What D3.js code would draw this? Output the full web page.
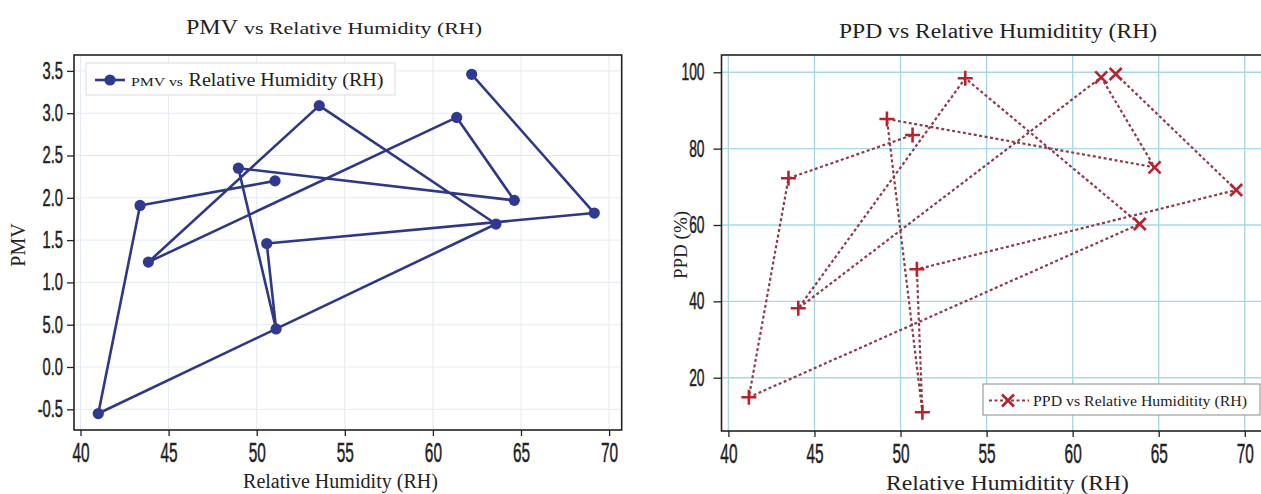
<!DOCTYPE html>
<html>
<head>
<meta charset="utf-8">
<script src="https://cdn.jsdelivr.net/npm/d3@7"></script>
<style>
  body { margin: 0; background: #fff; }
  .serif { font-family: 'Liberation Serif', 'Times New Roman', serif; fill: #222; }
  .tick text { font-family: 'Liberation Sans Narrow', 'Liberation Sans', sans-serif; fill: #222; stroke: #222; stroke-width: 0.5px; }
</style>
</head>
<body>
<div class="chart"></div>
<script>
// readings in the order the points are joined
const rhPmv = [62.2, 69.16, 50.57, 51.1, 48.96, 64.62, 61.35, 43.85, 53.55, 63.58, 41.01, 43.38, 51.04];
const pmv = [3.46, 1.82, 1.46, 0.45, 2.35, 1.97, 2.95, 1.24, 3.09, 1.69, -0.55, 1.91, 2.2];
const pmvTicks = [-0.5, 0, 0.5, 1, 1.5, 2, 2.5, 3, 3.5];
const pmvTickLabels = ['-0.5', '0.0', '5.0', '1.0', '1.5', '2.0', '2.5', '3.0', '3.5'];

const rhPpd = [62.5, 69.5, 50.95, 51.27, 49.21, 64.76, 61.66, 44.06, 53.76, 63.9, 41.19, 43.49, 50.7];
const ppd = [99.55, 69.17, 48.4, 10.94, 87.77, 75.11, 98.69, 38.18, 98.43, 60.26, 14.87, 72.23, 83.58];
const ppdTicks = [20, 40, 60, 80, 100];

const rhTicks = [40, 45, 50, 55, 60, 65, 70];

const width = 1261;
const height = 494;

const svg = d3
  .select('.chart')
  .append('svg')
  .attr('width', width)
  .attr('height', height);

// squeeze tick labels, the digits in the picture are tall and narrow
function squeeze(g, sx) {
  g.selectAll('.tick text').each(function () {
    const t = d3.select(this);
    const x = +t.attr('x') || 0;
    t.attr('transform', 'scale(' + sx + ',1)').attr('x', x / sx);
  });
}

// ---------- left: PMV ----------
const x1 = d3.scaleLinear().domain([39.631, 70.715]).range([74, 621.7]);
const y1 = d3.scaleLinear().domain([-0.7447, 3.688]).range([430, 55]);

const g1 = svg.append('g');

g1.append('g')
  .selectAll('line')
  .data(rhTicks)
  .enter()
  .append('line')
  .attr('x1', (d) => x1(d))
  .attr('x2', (d) => x1(d))
  .attr('y1', 55)
  .attr('y2', 430)
  .attr('stroke', '#e4eaf2')
  .attr('stroke-width', 1);

g1.append('g')
  .selectAll('line')
  .data(pmvTicks)
  .enter()
  .append('line')
  .attr('x1', 74)
  .attr('x2', 621.7)
  .attr('y1', (d) => y1(d))
  .attr('y2', (d) => y1(d))
  .attr('stroke', '#e4eaf2')
  .attr('stroke-width', 1);

g1.append('rect')
  .attr('x', 74)
  .attr('y', 55)
  .attr('width', 621.7 - 74)
  .attr('height', 430 - 55)
  .attr('fill', 'none')
  .attr('stroke', '#222')
  .attr('stroke-width', 1.6);

const ax1 = g1
  .append('g')
  .attr('transform', 'translate(0,430)')
  .call(d3.axisBottom(x1).tickValues(rhTicks).tickSize(6).tickPadding(6).tickFormat(d3.format('d')));
ax1.select('.domain').remove();
ax1.selectAll('.tick line').attr('stroke', '#222').attr('stroke-width', 1.3);
ax1.selectAll('.tick text').attr('font-size', 28);
squeeze(ax1, 0.55);

const ay1 = g1
  .append('g')
  .attr('transform', 'translate(74,0)')
  .call(
    d3.axisLeft(y1)
      .tickValues(pmvTicks)
      .tickSize(7)
      .tickPadding(4)
      .tickFormat((d, i) => pmvTickLabels[i])
  );
ay1.select('.domain').remove();
ay1.selectAll('.tick line').attr('stroke', '#222').attr('stroke-width', 1.3);
ay1.selectAll('.tick text').attr('font-size', 23);
squeeze(ay1, 0.64);

const pmvPts = rhPmv.map((d, i) => [d, pmv[i]]);

g1.append('path')
  .datum(pmvPts)
  .attr('fill', 'none')
  .attr('stroke', '#2e3886')
  .attr('stroke-width', 2.6)
  .attr('stroke-linejoin', 'round')
  .attr('d', d3.line().x((d) => x1(d[0])).y((d) => y1(d[1])));

g1.append('g')
  .selectAll('circle')
  .data(pmvPts)
  .enter()
  .append('circle')
  .attr('cx', (d) => x1(d[0]))
  .attr('cy', (d) => y1(d[1]))
  .attr('r', 5.6)
  .attr('fill', '#2f3a8f');

// legend
g1.append('rect')
  .attr('x', 86)
  .attr('y', 63)
  .attr('width', 309)
  .attr('height', 32)
  .attr('fill', '#fff')
  .attr('stroke', '#dcdcdc')
  .attr('stroke-width', 1);
g1.append('line')
  .attr('x1', 95)
  .attr('x2', 125)
  .attr('y1', 80)
  .attr('y2', 80)
  .attr('stroke', '#2e3886')
  .attr('stroke-width', 2.6);
g1.append('circle').attr('cx', 110).attr('cy', 80).attr('r', 5.6).attr('fill', '#2f3a8f');
g1.append('text')
  .attr('class', 'serif')
  .attr('x', 131)
  .attr('y', 85.5)
  .attr('font-size', 12)
  .attr('textLength', 52)
  .attr('lengthAdjust', 'spacingAndGlyphs')
  .text('PMV vs');
g1.append('text')
  .attr('class', 'serif')
  .attr('x', 188.5)
  .attr('y', 85.5)
  .attr('font-size', 18)
  .attr('textLength', 195)
  .attr('lengthAdjust', 'spacingAndGlyphs')
  .text('Relative Humidity (RH)');

// titles
g1.append('text')
  .attr('class', 'serif')
  .attr('x', 186)
  .attr('y', 34)
  .attr('font-size', 22)
  .attr('textLength', 52)
  .attr('lengthAdjust', 'spacingAndGlyphs')
  .text('PMV');
g1.append('text')
  .attr('class', 'serif')
  .attr('x', 244)
  .attr('y', 34)
  .attr('font-size', 17)
  .attr('textLength', 238)
  .attr('lengthAdjust', 'spacingAndGlyphs')
  .text('vs Relative Humidity (RH)');
g1.append('text')
  .attr('class', 'serif')
  .attr('x', 243)
  .attr('y', 488)
  .attr('font-size', 20)
  .attr('textLength', 195)
  .attr('lengthAdjust', 'spacingAndGlyphs')
  .text('Relative Humidity (RH)');
g1.append('text')
  .attr('class', 'serif')
  .attr('transform', 'translate(25,245) rotate(-90)')
  .attr('text-anchor', 'middle')
  .attr('font-size', 20)
  .text('PMV');

// ---------- right: PPD ----------
const x2 = d3.scaleLinear().domain([39.599, 71.117]).range([721.5, 1264]);
const y2 = d3.scaleLinear().domain([6.04, 104.53]).range([431, 55]);

const g2 = svg.append('g');

g2.append('g')
  .selectAll('line')
  .data(rhTicks)
  .enter()
  .append('line')
  .attr('x1', (d) => x2(d))
  .attr('x2', (d) => x2(d))
  .attr('y1', 55)
  .attr('y2', 431)
  .attr('stroke', '#a8d8e4')
  .attr('stroke-width', 1.4);

g2.append('g')
  .selectAll('line')
  .data(ppdTicks)
  .enter()
  .append('line')
  .attr('x1', 721.5)
  .attr('x2', 1264)
  .attr('y1', (d) => y2(d))
  .attr('y2', (d) => y2(d))
  .attr('stroke', '#a8d8e4')
  .attr('stroke-width', 1.4);

g2.append('rect')
  .attr('x', 721.5)
  .attr('y', 55)
  .attr('width', 1264 - 721.5)
  .attr('height', 431 - 55)
  .attr('fill', 'none')
  .attr('stroke', '#222')
  .attr('stroke-width', 1.6);

const ax2 = g2
  .append('g')
  .attr('transform', 'translate(0,431)')
  .call(d3.axisBottom(x2).tickValues(rhTicks).tickSize(6).tickPadding(6).tickFormat(d3.format('d')));
ax2.select('.domain').remove();
ax2.selectAll('.tick line').attr('stroke', '#222').attr('stroke-width', 1.3);
ax2.selectAll('.tick text').attr('font-size', 28);
squeeze(ax2, 0.55);

const ay2 = g2
  .append('g')
  .attr('transform', 'translate(721.5,0)')
  .call(d3.axisLeft(y2).tickValues(ppdTicks).tickSize(8).tickPadding(9).tickFormat(d3.format('d')));
ay2.select('.domain').remove();
ay2.selectAll('.tick line').attr('stroke', '#222').attr('stroke-width', 1.3);
ay2.selectAll('.tick text').attr('font-size', 23);
squeeze(ay2, 0.6);

const ppdPts = rhPpd.map((d, i) => [d, ppd[i]]);

g2.append('path')
  .datum(ppdPts)
  .attr('fill', 'none')
  .attr('stroke', '#8e3a47')
  .attr('stroke-width', 2.2)
  .attr('stroke-dasharray', '3,2.5')
  .attr('d', d3.line().x((d) => x2(d[0])).y((d) => y2(d[1])));

// markers look like "+" on the left of the plot and "x" on the right
const plus = 'M-7.5,0H7.5M0,-7.5V7.5';
const cross = 'M-6,-6L6,6M-6,6L6,-6';

g2.append('g')
  .selectAll('path')
  .data(ppdPts)
  .enter()
  .append('path')
  .attr('transform', (d) => 'translate(' + x2(d[0]) + ',' + y2(d[1]) + ')')
  .attr('d', (d) => (d[0] > 58 ? cross : plus))
  .attr('fill', 'none')
  .attr('stroke', '#b8222f')
  .attr('stroke-width', 2.6);

// legend
g2.append('rect')
  .attr('x', 983)
  .attr('y', 384)
  .attr('width', 277)
  .attr('height', 31)
  .attr('fill', '#fff')
  .attr('stroke', '#8a8a8a')
  .attr('stroke-width', 1);
g2.append('line')
  .attr('x1', 989)
  .attr('x2', 1029)
  .attr('y1', 400.5)
  .attr('y2', 400.5)
  .attr('stroke', '#8e3a47')
  .attr('stroke-width', 2.2)
  .attr('stroke-dasharray', '3,2.5');
g2.append('path')
  .attr('transform', 'translate(1008,400.5)')
  .attr('d', cross)
  .attr('fill', 'none')
  .attr('stroke', '#b8222f')
  .attr('stroke-width', 2.6);
g2.append('text')
  .attr('class', 'serif')
  .attr('x', 1033)
  .attr('y', 406)
  .attr('font-size', 15.5)
  .attr('textLength', 214)
  .attr('lengthAdjust', 'spacingAndGlyphs')
  .text('PPD vs Relative Humiditity (RH)');

// titles
g2.append('text')
  .attr('class', 'serif')
  .attr('x', 839)
  .attr('y', 38)
  .attr('font-size', 20)
  .attr('textLength', 318)
  .attr('lengthAdjust', 'spacingAndGlyphs')
  .text('PPD vs Relative Humiditity (RH)');
g2.append('text')
  .attr('class', 'serif')
  .attr('x', 886)
  .attr('y', 489.5)
  .attr('font-size', 20)
  .attr('textLength', 243)
  .attr('lengthAdjust', 'spacingAndGlyphs')
  .text('Relative Humiditity (RH)');
g2.append('text')
  .attr('class', 'serif')
  .attr('transform', 'translate(687,245) rotate(-90)')
  .attr('text-anchor', 'middle')
  .attr('font-size', 19)
  .text('PPD (%)');
</script>
</body>
</html>
